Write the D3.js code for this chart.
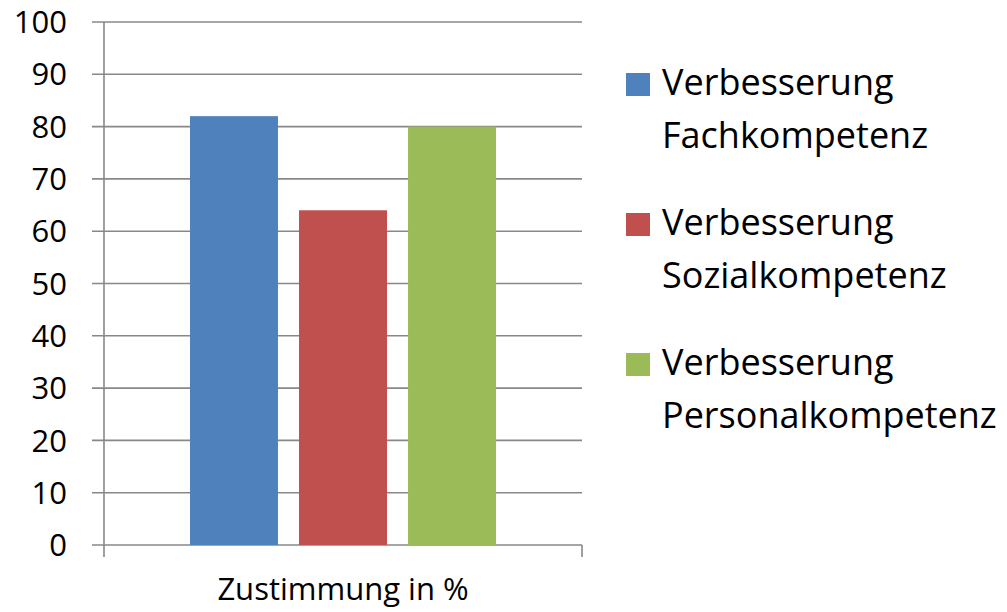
<!DOCTYPE html>
<html lang="de">
<head>
    <meta charset="UTF-8">
    <title>Zustimmung in %</title>
    <style>
        body { margin: 0; background: #fff; }
        svg { display: block; }
        text { font-family: "Open Sans", "Liberation Sans", sans-serif; fill: #000; }
    </style>
</head>
<body>
    <svg id="chart" width="1007" height="612"></svg>

    <script src="https://d3js.org/d3.v7.min.js"></script>
    <script>
        // Chart data
        const categories = ["Zustimmung in %"];
        const seriesNames = [
            ["Verbesserung", "Fachkompetenz"],
            ["Verbesserung", "Sozialkompetenz"],
            ["Verbesserung", "Personalkompetenz"]
        ];
        const seriesValues = [82, 64, 80];
        const seriesColors = ["#4f81bd", "#c0504d", "#9bbb59"];
        const yTicks = [0, 10, 20, 30, 40, 50, 60, 70, 80, 90, 100];

        const svg = d3.select("#chart");
        const plot = { left: 104, right: 582, top: 22, bottom: 545 };
        const gridColor = "#888";

        const y = d3.scaleLinear().domain([0, 100]).range([plot.bottom, plot.top]);

        // outer band: the one category across the plot
        const x0 = d3.scaleBand()
            .domain(categories)
            .range([plot.left, plot.right])
            .paddingInner(0)
            .paddingOuter(0.281);

        // inner band: one bar per series
        const x1 = d3.scaleBand()
            .domain(d3.range(seriesValues.length))
            .range([0, x0.bandwidth()])
            .paddingInner(0.193)
            .paddingOuter(0);

        // gridlines + left ticks
        svg.append("g")
            .selectAll("line")
            .data(yTicks)
            .join("line")
            .attr("x1", plot.left - 12)
            .attr("x2", plot.right)
            .attr("y1", d => y(d))
            .attr("y2", d => y(d))
            .attr("stroke", gridColor)
            .attr("stroke-width", 1.6);

        // y tick labels
        svg.append("g")
            .selectAll("text")
            .data(yTicks)
            .join("text")
            .attr("x", 67)
            .attr("y", d => y(d))
            .attr("dy", "0.36em")
            .attr("text-anchor", "end")
            .attr("font-size", 31)
            .text(d => d);

        // bars
        svg.append("g")
            .selectAll("rect")
            .data(seriesValues)
            .join("rect")
            .attr("x", (d, i) => x0(categories[0]) + x1(i))
            .attr("width", x1.bandwidth())
            .attr("y", d => y(d))
            .attr("height", d => y(0) - y(d))
            .attr("fill", (d, i) => seriesColors[i]);

        // axes lines
        svg.append("line")
            .attr("x1", plot.left).attr("x2", plot.left)
            .attr("y1", plot.top).attr("y2", plot.bottom + 12)
            .attr("stroke", gridColor).attr("stroke-width", 1.6);
        svg.append("line")
            .attr("x1", plot.right).attr("x2", plot.right)
            .attr("y1", plot.bottom).attr("y2", plot.bottom + 12)
            .attr("stroke", gridColor).attr("stroke-width", 1.6);

        // category label
        svg.append("text")
            .attr("x", x0(categories[0]) + x0.bandwidth() / 2)
            .attr("y", 600)
            .attr("text-anchor", "middle")
            .attr("font-size", 31)
            .text(categories[0]);

        // legend
        const legend = svg.append("g")
            .selectAll("g")
            .data(seriesNames)
            .join("g")
            .attr("transform", (d, i) => `translate(626, ${95 + i * 140})`);

        legend.append("rect")
            .attr("x", 0).attr("y", -22)
            .attr("width", 24).attr("height", 23)
            .attr("fill", (d, i) => seriesColors[i]);

        legend.append("text")
            .attr("x", 36)
            .attr("font-size", 36)
            .selectAll("tspan")
            .data(d => d)
            .join("tspan")
            .attr("x", 36)
            .attr("dy", (d, i) => i === 0 ? 0 : 53)
            .text(d => d);
    </script>
</body>
</html>
